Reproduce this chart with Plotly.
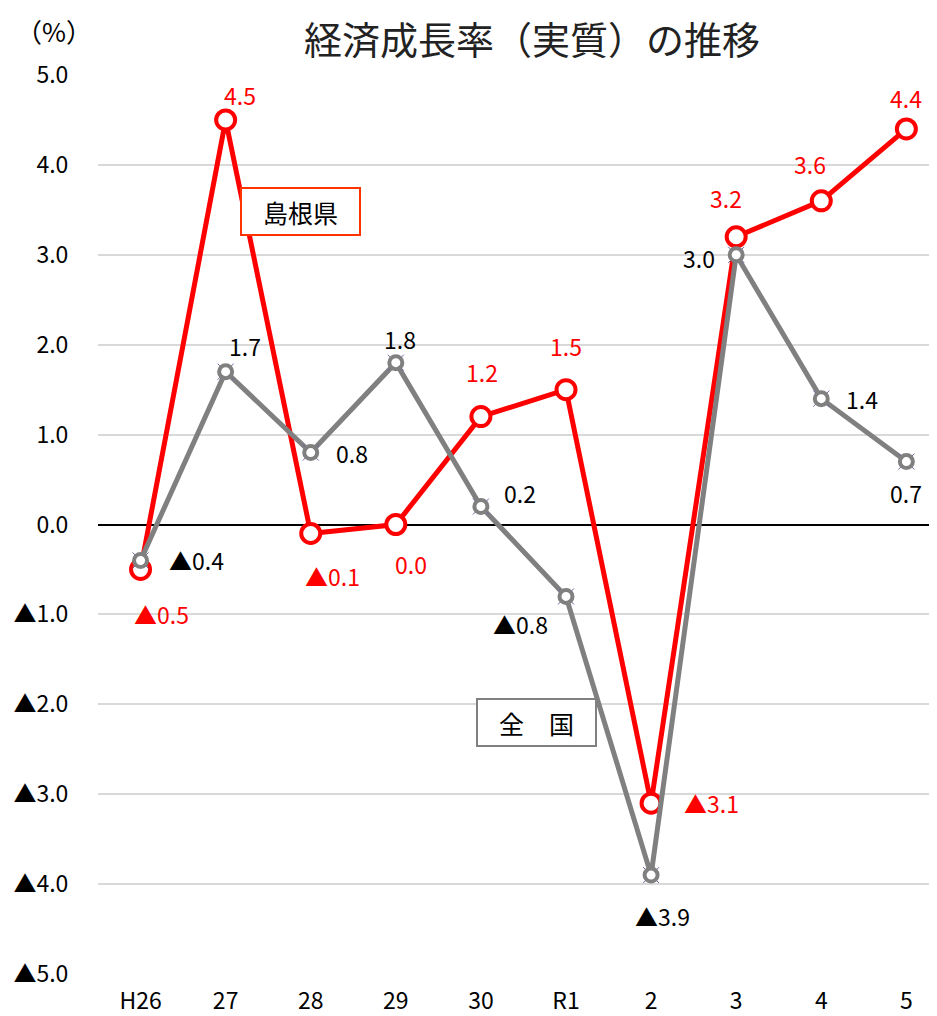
import plotly.graph_objects as go

# data
years = ['H26', '27', '28', '29', '30', 'R1', '2', '3', '4', '5']
shimane = [-0.5, 4.5, -0.1, 0.0, 1.2, 1.5, -3.1, 3.2, 3.6, 4.4]
zenkoku = [-0.4, 1.7, 0.8, 1.8, 0.2, -0.8, -3.9, 3.0, 1.4, 0.7]
y_ticks = [5, 4, 3, 2, 1, 0, -1, -2, -3, -4, -5]

FONT = 'Noto Sans CJK JP'
RED = '#FF0000'
GRAY = '#808080'
LBL = 23


def fmt(v):
    return ('▲' if v < 0 else '') + f'{abs(v):.1f}'


# label offsets (pixels) for each point
red_off = [(21, -45), (14, 25), (22, -43), (15, -39), (1, 45), (0, 44), (60, 0), (-10, 39), (-11, 37), (0, 31)]
gray_off = [(56, 0), (19, 26), (41, 0), (4, 24), (39, 14), (-46, -28), (11, -41), (-37, -3), (41, 0), (0, -31)]

x_idx = list(range(len(years)))

fig = go.Figure()
fig.add_trace(go.Scatter(
    x=x_idx, y=shimane, mode='lines+markers', name='島根県',
    line=dict(color=RED, width=5),
    marker=dict(symbol='circle', size=19, color='white', line=dict(color=RED, width=4)),
))
fig.add_trace(go.Scatter(
    x=x_idx, y=zenkoku, mode='lines', name='全国',
    line=dict(color=GRAY, width=5),
))
fig.add_trace(go.Scatter(
    x=x_idx, y=zenkoku, mode='markers', showlegend=False,
    marker=dict(symbol='x-thin', size=16, line=dict(color='#7060A8', width=1)),
))
fig.add_trace(go.Scatter(
    x=x_idx, y=zenkoku, mode='markers', showlegend=False,
    marker=dict(symbol='circle', size=13, color='white', line=dict(color=GRAY, width=4)),
))

for i, v in enumerate(shimane):
    fig.add_annotation(x=i, y=v, text=fmt(v), showarrow=False,
                       xshift=red_off[i][0], yshift=red_off[i][1],
                       font=dict(family=FONT, size=LBL, color=RED))
for i, v in enumerate(zenkoku):
    fig.add_annotation(x=i, y=v, text=fmt(v), showarrow=False,
                       xshift=gray_off[i][0], yshift=gray_off[i][1],
                       font=dict(family=FONT, size=LBL, color='black'))

# legend boxes
fig.add_annotation(x=1.88, y=3.48, text='島根県', showarrow=False,
                   font=dict(family=FONT, size=25, color='black'),
                   bordercolor='#FF3300', borderwidth=2, borderpad=0, bgcolor='white',
                   width=117, height=45)
fig.add_annotation(x=4.65, y=-2.2, text='全　国', showarrow=False,
                   font=dict(family=FONT, size=25, color='black'),
                   bordercolor=GRAY, borderwidth=2, borderpad=0, bgcolor='white',
                   width=117, height=45)

# title and unit
fig.add_annotation(text='経済成長率（実質）の推移', xref='paper', yref='paper',
                   x=(524 - 90) / 839, y=1, xanchor='center', yanchor='top', yshift=67,
                   showarrow=False, font=dict(family=FONT, size=38, color='#222'))
fig.add_annotation(text='（%）', xref='paper', yref='paper', x=(46 - 90) / 839, y=1,
                   xanchor='center', yanchor='middle', yshift=45, showarrow=False,
                   font=dict(family=FONT, size=26, color='black'))

fig.update_layout(
    width=929, height=1008,
    margin=dict(l=90, r=0, t=67, b=37),
    plot_bgcolor='white', paper_bgcolor='white',
    showlegend=False,
    xaxis=dict(
        range=[-0.5, 9.36], tickvals=x_idx, ticktext=years,
        showgrid=False, zeroline=False, showline=False,
        tickfont=dict(family=FONT, size=LBL, color='black'), ticks='outside',
        ticklen=6, tickcolor='white',
    ),
    yaxis=dict(
        range=[-5, 5], tickvals=y_ticks, ticktext=[fmt(v) for v in y_ticks],
        showgrid=True, gridcolor='#D9D9D9', gridwidth=2,
        zeroline=True, zerolinecolor='black', zerolinewidth=2,
        tickfont=dict(family=FONT, size=LBL, color='black'), ticklen=24, tickcolor='white',
        ticks='outside',
    ),
)

fig.write_html("out.html")
